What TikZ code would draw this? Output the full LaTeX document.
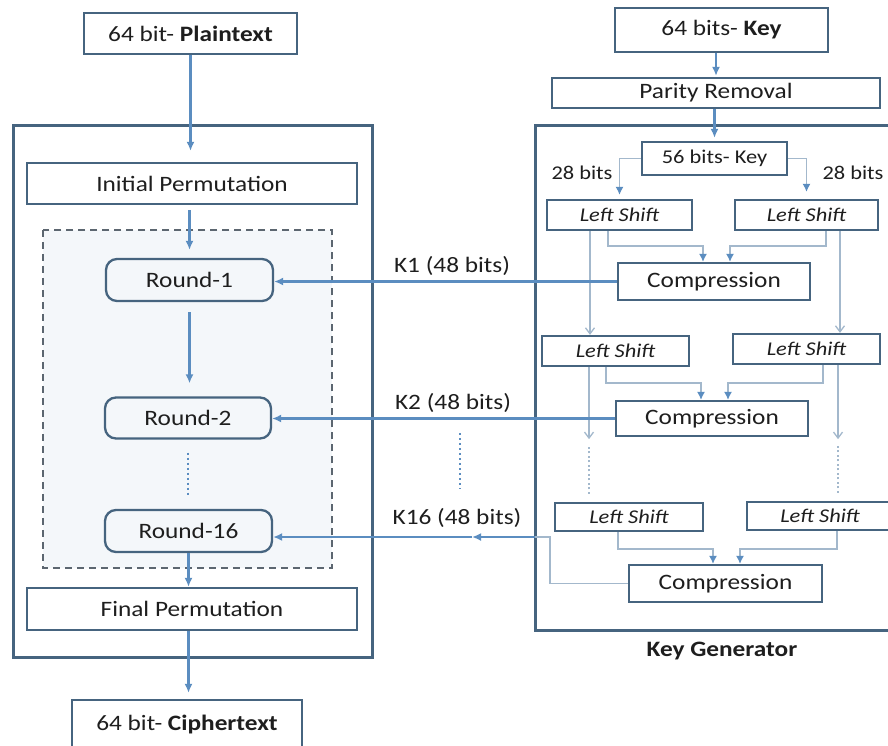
\documentclass[tikz,border=0pt]{standalone}
\usepackage{fontspec}
\setmainfont{Carlito}[FakeStretch=1.15]
\usetikzlibrary{arrows.meta}
\definecolor{boxline}{HTML}{46647F}
\definecolor{flow}{HTML}{5B8DC0}
\definecolor{faint}{HTML}{A3B8CC}
\definecolor{dashc}{HTML}{5C6670}
\definecolor{panel}{HTML}{F4F7FA}
\definecolor{ink}{HTML}{1E1E1E}
\begin{document}
\begin{tikzpicture}[x=1pt,y=-1pt,
  bigtxt/.style={font=\fontsize{22}{26}\selectfont, text=ink},
  smalltxt/.style={font=\fontsize{19.5}{23}\selectfont, text=ink},
  blk/.style={draw=boxline, line width=2.3pt, fill=white, inner sep=0pt, bigtxt},
  sblk/.style={blk, smalltxt},
  rnd/.style={blk, rounded corners=11pt, fill=panel},
  frame/.style={draw=boxline, line width=3pt},
  flowarrow/.style={draw=flow, line width=2.4pt, -{Latex[length=9pt,width=8pt]}},
  faintarrow/.style={draw=faint, line width=1.3pt, -{Straight Barb[length=6pt,width=9pt]}},
  faintline/.style={draw=faint, line width=1.3pt},
  joinarrow/.style={draw=faint, line width=1.3pt, -{Latex[length=8pt,width=8pt,color=flow]}},
  faintdots/.style={draw=faint, line width=1.4pt, dash pattern=on 2pt off 2.5pt},
  flowdots/.style={draw=flow, line width=2.6pt, dash pattern=on 2.2pt off 2.8pt},
]
\useasboundingbox (0,0) rectangle (888,745);

% ---------- enclosing frames ----------
\draw[frame] (13,125) rectangle (372,657);
\draw[frame] (535,125) rectangle (900,630);
\draw[draw=dashc, fill=panel, line width=1.8pt, dash pattern=on 7pt off 5pt] (43,230) rectangle (332,568);

% ---------- data path ----------
\node[blk, minimum width=213pt, minimum height=41pt] (pt) at (190.5,33.5) {64 bit- \textbf{Plaintext}};
\node[blk, minimum width=330pt, minimum height=41pt] (ip) at (192,183.5) {Initial Permutation};
\node[rnd, minimum width=167pt, minimum height=42pt] (r1) at (189.5,280) {Round-1};
\node[rnd, minimum width=166pt, minimum height=41pt] (r2) at (188,418) {Round-2};
\node[rnd, minimum width=167pt, minimum height=42pt] (r16) at (188.5,531) {Round-16};
\node[blk, minimum width=330pt, minimum height=42pt] (fp) at (192,609) {Final Permutation};
\node[blk, minimum width=230pt, minimum height=48pt] (ct) at (187,724) {64 bit- \textbf{Ciphertext}};

% ---------- key schedule ----------
\node[blk, minimum width=213pt, minimum height=44pt] (key) at (721.5,30) {64 bits- \textbf{Key}};
\node[blk, minimum width=328pt, minimum height=30pt] (par) at (716,93) {Parity Removal};
\node[sblk, minimum width=145pt, minimum height=33pt] (k56) at (714.5,158.5) {56 bits- Key};

\node[sblk, minimum width=145pt, minimum height=30pt] (ls1L) at (619.5,215) {\itshape Left Shift};
\node[sblk, minimum width=143pt, minimum height=30pt] (ls1R) at (806.5,215) {\itshape Left Shift};
\node[blk, minimum width=192pt, minimum height=37pt] (c1) at (714,281.5) {Compression};

\node[sblk, minimum width=147pt, minimum height=30pt] (ls2L) at (615.5,351) {\itshape Left Shift};
\node[sblk, minimum width=147pt, minimum height=30pt] (ls2R) at (806.5,349) {\itshape Left Shift};
\node[blk, minimum width=192pt, minimum height=35pt] (c2) at (712,418.5) {Compression};

\node[sblk, minimum width=148pt, minimum height=28pt] (ls16L) at (629,517) {\itshape Left Shift};
\node[sblk, minimum width=146pt, minimum height=28pt] (ls16R) at (820,516) {\itshape Left Shift};
\node[blk, minimum width=193pt, minimum height=37pt] (c16) at (725.5,583.5) {Compression};

% ---------- labels ----------
\node[smalltxt] (b28L) at (582,173) {28 bits};
\node[smalltxt] (b28R) at (853,173) {28 bits};
\node[bigtxt] (lk1) at (452,266) {K1 (48 bits)};
\node[bigtxt] (lk2) at (453,403) {K2 (48 bits)};
\node[bigtxt] (lk16) at (457,518) {K16 (48 bits)};
\node[bigtxt] (kg) at (722,651) {\textbf{Key Generator}};

% ---------- data path connectors ----------
\draw[flowarrow, shorten >=11pt] (pt.south) -- (pt.south |- ip.north);
\draw[flowarrow, shorten <=5pt, shorten >=8pt] (r1.north |- ip.south) -- (r1.north);
\draw[flowarrow, shorten <=10pt, shorten >=13pt] (r1.south) -- (r1.south |- r2.north);
\draw[flowdots] ([yshift=-13pt]r2.south) -- ([yshift=13pt]r2.south |- r16.north);
\draw[flowarrow] (r16.south) -- (r16.south |- fp.north);
\draw[flowarrow, shorten >=6pt] (r16.south |- fp.south) -- (r16.south |- ct.north);

% ---------- key schedule connectors ----------
\draw[flowarrow, shorten >=1pt] (par.north |- key.south) -- (par.north);
\draw[flowarrow, shorten >=3pt] (k56.north |- par.south) -- (k56.north);
\draw[joinarrow, shorten >=4pt] (k56.west) -| (ls1L.north);
\draw[joinarrow, shorten >=7pt] (k56.east) -| (ls1R.north);

\draw[joinarrow] ([xshift=-11.5pt]ls1L.south) |- ([xshift=-11pt,yshift=16pt]c1.north) -- ([xshift=-11pt]c1.north);
\draw[joinarrow] ([xshift=19.5pt]ls1R.south) |- ([xshift=16pt,yshift=16pt]c1.north) -- ([xshift=16pt]c1.north);
\draw[faintarrow] ([xshift=-29.5pt]ls1L.south) -- ([xshift=-29.5pt]ls1L.south |- ls2L.north);
\draw[faintarrow] ([xshift=33.5pt]ls1R.south) -- ([xshift=33.5pt]ls1R.south |- ls2R.north);

\draw[joinarrow] ([xshift=-9.5pt]ls2L.south) |- ([xshift=-11pt,yshift=17pt]c2.north) -- ([xshift=-11pt]c2.north);
\draw[joinarrow] ([xshift=16.5pt]ls2R.south) |- ([xshift=16pt,yshift=17pt]c2.north) -- ([xshift=16pt]c2.north);
\draw[faintarrow] ([xshift=-26.5pt]ls2L.south) -- ++(0,72);
\draw[faintarrow] ([xshift=31.5pt]ls2R.south) -- ++(0,74);
\draw[faintdots] ([xshift=-40pt,yshift=8pt]ls16L.north) -- ++(0,-48);
\draw[faintdots] ([xshift=18pt,yshift=8pt]ls16R.north) -- ++(0,-48);

\draw[joinarrow] ([xshift=-11pt]ls16L.south) |- ([xshift=-12.5pt,yshift=15pt]c16.north) -- ([xshift=-12.5pt]c16.north);
\draw[joinarrow] ([xshift=17pt]ls16R.south) |- ([xshift=14.5pt,yshift=15pt]c16.north) -- ([xshift=14.5pt]c16.north);

% ---------- round keys ----------
\draw[flowarrow] (c1.west) -- (c1.west -| r1.east);
\draw[flowarrow] (c2.west) -- (c2.west -| r2.east);
\coordinate (kbend) at (550,537);
\coordinate (kedge) at (535,537);
\coordinate (kmid) at (472,537);
\draw[faintline] (c16.west) -| (kbend) -- (kedge);
\draw[flowarrow] (kedge) -- (kmid);
\draw[flowarrow] (kmid) -- (kmid -| r16.east);
\coordinate (vdotA) at (460,433);
\coordinate (vdotB) at (460,489);
\draw[flowdots] (vdotA) -- (vdotB);
\end{tikzpicture}
\end{document}
